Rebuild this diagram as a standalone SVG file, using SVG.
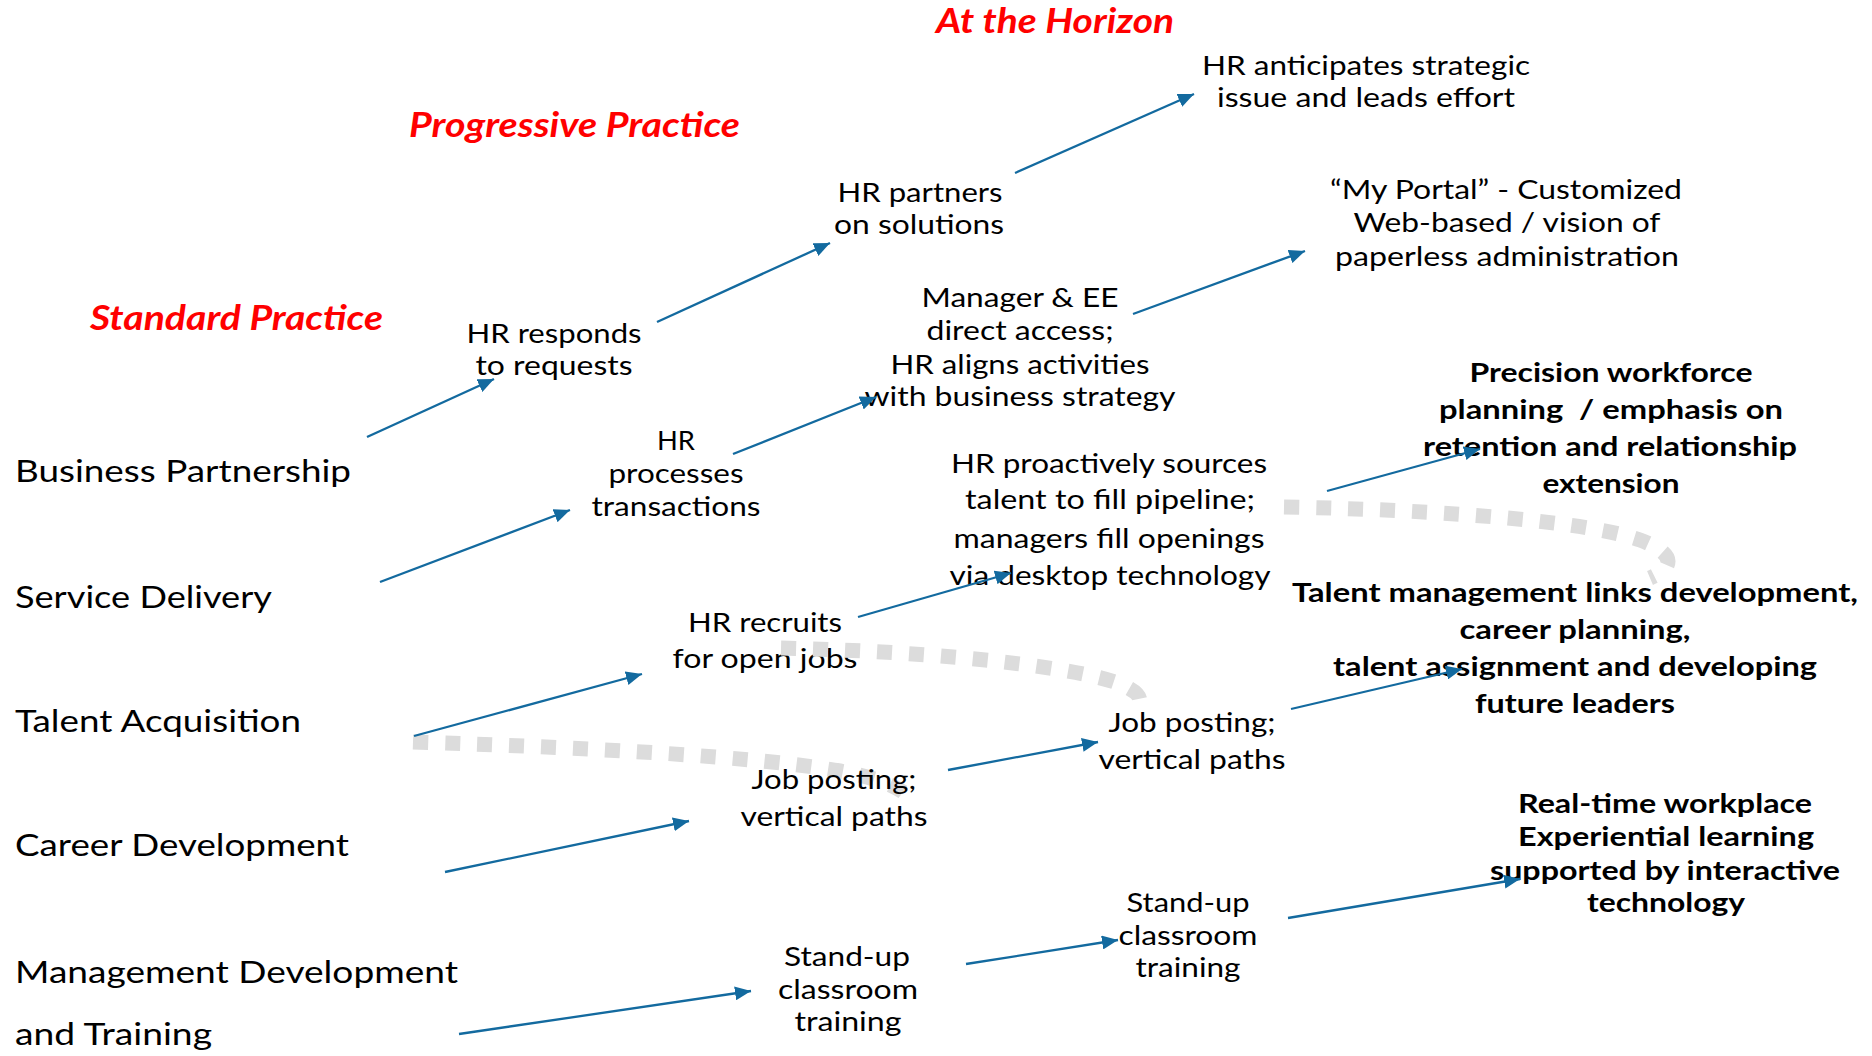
<svg xmlns="http://www.w3.org/2000/svg" width="1872" height="1056" viewBox="0 0 1872 1056">
<style>
text{font-family:Lato,"Liberation Sans",sans-serif;fill:#000}
.hd{font-size:34px;font-weight:bold;font-style:italic;fill:#FF0000}
.row{font-size:31px}
.n{font-size:26.5px;text-anchor:middle}
.b{font-size:26.5px;font-weight:bold;text-anchor:middle}
.dot{fill:none;stroke:#DCDCDC;stroke-width:15;stroke-dasharray:15 17}
.arr{fill:none;stroke:#136A9F;stroke-width:2.3;marker-end:url(#ah)}
</style>
<defs>
<marker id="ah" markerUnits="userSpaceOnUse" markerWidth="17" markerHeight="14" refX="16" refY="7" orient="auto">
<path d="M0,0 L16,7 L0,14 z" fill="#136A9F"/>
</marker>
</defs>
<rect width="1872" height="1056" fill="#fff"/>
<g id="connectors-behind">
<path class="dot" d="M413,742 C600,748 760,757 840,771 C872,777 892,784 903,792"/>
</g>
<g id="headers">
<text class="hd" x="936" y="33" textLength="238" lengthAdjust="spacingAndGlyphs">At the Horizon</text>
<text class="hd" x="409" y="137" textLength="331" lengthAdjust="spacingAndGlyphs">Progressive Practice</text>
<text class="hd" x="90" y="330" textLength="293" lengthAdjust="spacingAndGlyphs">Standard Practice</text>
</g>
<g id="rows">
<text class="row" x="15" y="482" textLength="336" lengthAdjust="spacingAndGlyphs">Business Partnership</text>
<text class="row" x="15" y="608" textLength="257" lengthAdjust="spacingAndGlyphs">Service Delivery</text>
<text class="row" x="15" y="732" textLength="286" lengthAdjust="spacingAndGlyphs">Talent Acquisition</text>
<text class="row" x="15" y="856" textLength="334" lengthAdjust="spacingAndGlyphs">Career Development</text>
<text class="row" x="15" y="983" textLength="443" lengthAdjust="spacingAndGlyphs">Management Development</text>
<text class="row" x="15" y="1045" textLength="197" lengthAdjust="spacingAndGlyphs">and Training</text>
</g>
<g id="node-hr-responds">
<text class="n" x="554" y="343" textLength="175" lengthAdjust="spacingAndGlyphs">HR responds</text>
<text class="n" x="554" y="375" textLength="157" lengthAdjust="spacingAndGlyphs">to requests</text>
</g>
<g id="node-hr-partners">
<text class="n" x="920" y="202" textLength="165" lengthAdjust="spacingAndGlyphs">HR partners</text>
<text class="n" x="919" y="234" textLength="170" lengthAdjust="spacingAndGlyphs">on solutions</text>
</g>
<g id="node-hr-anticipates">
<text class="n" x="1366" y="75" textLength="328" lengthAdjust="spacingAndGlyphs">HR anticipates strategic</text>
<text class="n" x="1366" y="107" textLength="298" lengthAdjust="spacingAndGlyphs">issue and leads effort</text>
</g>
<g id="node-my-portal">
<text class="n" x="1506" y="199" textLength="352" lengthAdjust="spacingAndGlyphs">“My Portal” - Customized</text>
<text class="n" x="1507" y="232" textLength="307" lengthAdjust="spacingAndGlyphs">Web-based / vision of</text>
<text class="n" x="1507" y="266" textLength="344" lengthAdjust="spacingAndGlyphs">paperless administration</text>
</g>
<g id="node-manager-ee">
<text class="n" x="1020" y="307" textLength="197" lengthAdjust="spacingAndGlyphs">Manager &amp; EE</text>
<text class="n" x="1020" y="340" textLength="187" lengthAdjust="spacingAndGlyphs">direct access;</text>
<text class="n" x="1020" y="374" textLength="259" lengthAdjust="spacingAndGlyphs">HR aligns activities</text>
<text class="n" x="1020" y="406" textLength="311" lengthAdjust="spacingAndGlyphs">with business strategy</text>
</g>
<g id="node-hr-processes">
<text class="n" x="676" y="450" textLength="38" lengthAdjust="spacingAndGlyphs">HR</text>
<text class="n" x="676" y="483" textLength="135" lengthAdjust="spacingAndGlyphs">processes</text>
<text class="n" x="676" y="516" textLength="169" lengthAdjust="spacingAndGlyphs">transactions</text>
</g>
<g id="node-hr-proactively">
<text class="n" x="1109" y="473" textLength="316" lengthAdjust="spacingAndGlyphs">HR proactively sources</text>
<text class="n" x="1110" y="509" textLength="290" lengthAdjust="spacingAndGlyphs">talent to fill pipeline;</text>
<text class="n" x="1109" y="548" textLength="311" lengthAdjust="spacingAndGlyphs">managers fill openings</text>
<text class="n" x="1110" y="585" textLength="321" lengthAdjust="spacingAndGlyphs">via desktop technology</text>
</g>
<g id="node-precision">
<text class="b" x="1611" y="382" textLength="283" lengthAdjust="spacingAndGlyphs">Precision workforce</text>
<text class="b" x="1611" y="419" textLength="344" lengthAdjust="spacingAndGlyphs" xml:space="preserve">planning  / emphasis on</text>
<text class="b" x="1610" y="456" textLength="374" lengthAdjust="spacingAndGlyphs">retention and relationship</text>
<text class="b" x="1611" y="493" textLength="137" lengthAdjust="spacingAndGlyphs">extension</text>
</g>
<g id="node-talent-management">
<text class="b" x="1575" y="602" textLength="566" lengthAdjust="spacingAndGlyphs">Talent management links development,</text>
<text class="b" x="1575" y="639" textLength="231" lengthAdjust="spacingAndGlyphs">career planning,</text>
<text class="b" x="1575" y="676" textLength="484" lengthAdjust="spacingAndGlyphs">talent assignment and developing</text>
<text class="b" x="1575" y="713" textLength="200" lengthAdjust="spacingAndGlyphs">future leaders</text>
</g>
<g id="node-hr-recruits">
<text class="n" x="765" y="632" textLength="154" lengthAdjust="spacingAndGlyphs">HR recruits</text>
<text class="n" x="765" y="668" textLength="185" lengthAdjust="spacingAndGlyphs">for open jobs</text>
</g>
<g id="node-job-posting-1">
<text class="n" x="834" y="789" textLength="165" lengthAdjust="spacingAndGlyphs">Job posting;</text>
<text class="n" x="834" y="826" textLength="187" lengthAdjust="spacingAndGlyphs">vertical paths</text>
</g>
<g id="node-job-posting-2">
<text class="n" x="1192" y="732" textLength="167" lengthAdjust="spacingAndGlyphs">Job posting;</text>
<text class="n" x="1192" y="769" textLength="187" lengthAdjust="spacingAndGlyphs">vertical paths</text>
</g>
<g id="node-standup-1">
<text class="n" x="847" y="966" textLength="126" lengthAdjust="spacingAndGlyphs">Stand-up</text>
<text class="n" x="848" y="999" textLength="140" lengthAdjust="spacingAndGlyphs">classroom</text>
<text class="n" x="848" y="1031" textLength="107" lengthAdjust="spacingAndGlyphs">training</text>
</g>
<g id="node-standup-2">
<text class="n" x="1188" y="912" textLength="123" lengthAdjust="spacingAndGlyphs">Stand-up</text>
<text class="n" x="1188" y="945" textLength="139" lengthAdjust="spacingAndGlyphs">classroom</text>
<text class="n" x="1188" y="977" textLength="105" lengthAdjust="spacingAndGlyphs">training</text>
</g>
<g id="node-real-time">
<text class="b" x="1665" y="813" textLength="294" lengthAdjust="spacingAndGlyphs">Real-time workplace</text>
<text class="b" x="1666" y="846" textLength="296" lengthAdjust="spacingAndGlyphs">Experiential learning</text>
<text class="b" x="1665" y="880" textLength="350" lengthAdjust="spacingAndGlyphs">supported by interactive</text>
<text class="b" x="1666" y="912" textLength="158" lengthAdjust="spacingAndGlyphs">technology</text>
</g>
<g id="connectors">
<path class="dot" d="M781,648 C950,652 1080,668 1120,684 C1142,693 1145,702 1132,710"/>
<path class="dot" d="M1284,507 C1450,510 1590,522 1640,540 C1672,552 1678,566 1650,578"/>
<path class="arr" d="M367,437 L494,379"/>
<path class="arr" d="M657,322 L830,243"/>
<path class="arr" d="M1015,173 L1194,94"/>
<path class="arr" d="M1133,314 L1305,251"/>
<path class="arr" d="M733,454 L876,397"/>
<path class="arr" d="M380,582 L570,510"/>
<path class="arr" d="M414,736 L642,674"/>
<path class="arr" d="M858,617 L1011,573"/>
<path class="arr" d="M1327,491 L1480,449"/>
<path class="arr" d="M445,872 L689,821"/>
<path class="arr" d="M948,770 L1098,742"/>
<path class="arr" d="M1291,709 L1462,669"/>
<path class="arr" d="M459,1034 L751,991"/>
<path class="arr" d="M966,964 L1118,940"/>
<path class="arr" d="M1288,918 L1520,879"/>
</g>
</svg>
